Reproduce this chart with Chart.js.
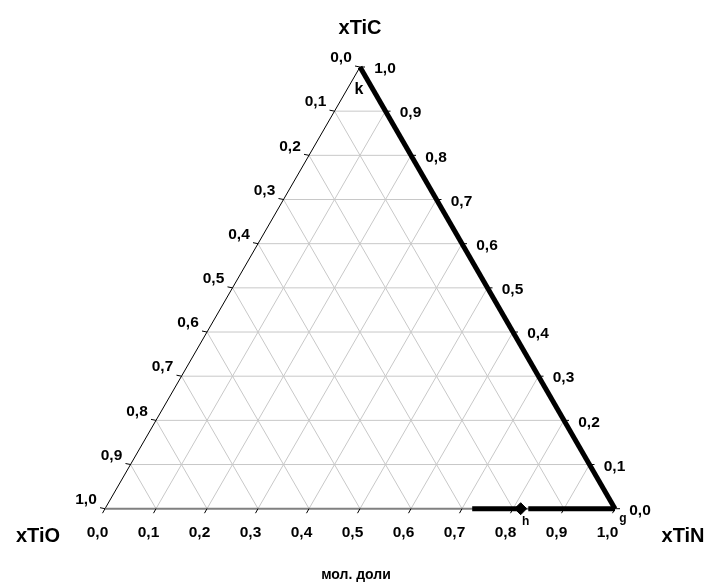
<!DOCTYPE html>
<html>
<head>
<meta charset="utf-8">
<script src="https://cdn.jsdelivr.net/npm/chart.js@4/dist/chart.umd.min.js"></script>
<style>
  html, body { margin: 0; padding: 0; background: #ffffff; }
  #wrap { width: 705px; height: 582px; position: relative; }
</style>
</head>
<body>
<div id="wrap"><canvas id="c" width="705" height="582"></canvas></div>
<script>
// Tick values and their labels (shared by all three sides of the triangle)
const tickValues = [0.0, 0.1, 0.2, 0.3, 0.4, 0.5, 0.6, 0.7, 0.8, 0.9, 1.0];
const tickLabels = ['0,0', '0,1', '0,2', '0,3', '0,4', '0,5', '0,6', '0,7', '0,8', '0,9', '1,0'];
const gridValues = [0.1, 0.2, 0.3, 0.4, 0.5, 0.6, 0.7, 0.8, 0.9];

// Component names at the vertices
const componentTop = 'xTiC';
const componentLeft = 'xTiO';
const componentRight = 'xTiN';
const unitsLabel = 'мол. доли';

// Boundary g–k along the TiN–TiC side (mole fractions)
const gkTiN = [1.0, 0.0];
const gkTiC = [0.0, 1.0];

// Segment ending at point h on the TiO–TiN side
const hSegTiN = [0.72, 0.815];
const hSegTiC = [0.0, 0.0];

// Segment from near h to g on the TiO–TiN side
const hgSegTiN = [0.83, 1.0];
const hgSegTiC = [0.0, 0.0];

// Marked point h
const pointHTiN = [0.815];
const pointHTiC = [0.0];

// Named points: label, xTiN, xTiC
const pointNames = ['k', 'h', 'g'];
const pointNamesTiN = [0.0, 0.815, 1.0];
const pointNamesTiC = [1.0, 0.0, 0.0];

const H = Math.sqrt(3) / 2;

// Ternary (xTiN, xTiC) -> cartesian plot coordinates
function tern(n, c) {
  return { x: n + c / 2, y: c * H };
}
function series(nArr, cArr) {
  return nArr.map((n, i) => tern(n, cArr[i]));
}

const gridColor = '#c8c8c8';
const datasets = [];

// Grid: lines of constant xTiC, xTiN and xTiO
gridValues.forEach(v => {
  datasets.push({ data: [tern(0, v), tern(1 - v, v)], borderColor: gridColor, borderWidth: 1, order: 10 });
  datasets.push({ data: [tern(v, 0), tern(v, 1 - v)], borderColor: gridColor, borderWidth: 1, order: 10 });
  datasets.push({ data: [tern(1 - v, 0), tern(0, 1 - v)], borderColor: gridColor, borderWidth: 1, order: 10 });
});

// Triangle sides
datasets.push({ data: [tern(0, 0), tern(1, 0)], borderColor: '#808080', borderWidth: 2, order: 6 });
datasets.push({ data: [tern(0, 0), tern(0, 1)], borderColor: '#000000', borderWidth: 1, order: 6 });
datasets.push({ data: [tern(1, 0), tern(0, 1)], borderColor: '#000000', borderWidth: 1, order: 6 });

// Phase boundaries
datasets.push({ data: series(gkTiN, gkTiC), borderColor: '#000000', borderWidth: 5, order: 2 });
datasets.push({ data: series(hSegTiN, hSegTiC), borderColor: '#000000', borderWidth: 5, order: 2 });
datasets.push({ data: series(hgSegTiN, hgSegTiC), borderColor: '#000000', borderWidth: 5, order: 2 });
datasets.push({
  data: series(pointHTiN, pointHTiC), showLine: false,
  pointStyle: 'rectRot', pointRadius: 6, pointBackgroundColor: '#000000',
  pointBorderColor: '#000000', pointBorderWidth: 1, order: 1
});

datasets.forEach(d => {
  if (d.showLine === undefined) d.showLine = true;
  if (d.pointRadius === undefined) d.pointRadius = 0;
  d.borderCapStyle = 'butt';
  d.borderJoinStyle = 'miter';
  d.fill = false;
  d.clip = false;
});

const FONT = '"Liberation Sans", Arial, sans-serif';

// Ticks, tick labels, component names and point names
const ternaryText = {
  id: 'ternaryText',
  afterDraw(chart) {
    const ctx = chart.ctx;
    const sx = chart.scales.x, sy = chart.scales.y;
    const px = p => ({ x: sx.getPixelForValue(p.x), y: sy.getPixelForValue(p.y) });

    ctx.save();
    // tick marks
    ctx.strokeStyle = '#000000';
    ctx.lineWidth = 1;
    tickValues.forEach(v => {
      const b = px(tern(v, 0));
      ctx.beginPath(); ctx.moveTo(b.x, b.y); ctx.lineTo(b.x - 2.5, b.y + 4.5); ctx.stroke();
      const l = px(tern(0, 1 - v));
      ctx.beginPath(); ctx.moveTo(l.x, l.y); ctx.lineTo(l.x - 5, l.y - 1); ctx.stroke();
      const r = px(tern(1 - v, v));
      ctx.beginPath(); ctx.moveTo(r.x, r.y); ctx.lineTo(r.x + 5, r.y); ctx.stroke();
    });

    ctx.fillStyle = '#000000';
    ctx.textAlign = 'center';
    ctx.textBaseline = 'middle';
    ctx.font = 'bold 15.5px ' + FONT;
    tickValues.forEach((v, i) => {
      const b = px(tern(v, 0));
      ctx.fillText(tickLabels[i], b.x - 7.5, b.y + 24);
      const l = px(tern(0, 1 - v));
      ctx.fillText(tickLabels[i], l.x - 19, l.y - 9);
      const r = px(tern(1 - v, v));
      ctx.fillText(tickLabels[i], r.x + 25, r.y + 2);
    });

    ctx.font = 'bold 20px ' + FONT;
    const top = px(tern(0, 1));
    ctx.fillText(componentTop, top.x, top.y - 39);
    const bl = px(tern(0, 0));
    ctx.fillText(componentLeft, bl.x - 67, bl.y + 28);
    const br = px(tern(1, 0));
    ctx.fillText(componentRight, br.x + 68, br.y + 28);

    ctx.font = 'bold 14px ' + FONT;
    ctx.fillText(unitsLabel, (bl.x + br.x) / 2 - 4, bl.y + 66);

    // point names
    const offs = [[-1, 23, 16], [5, 13, 12], [8, 10, 12]];
    pointNames.forEach((nm, i) => {
      const p = px(tern(pointNamesTiN[i], pointNamesTiC[i]));
      ctx.font = 'bold ' + offs[i][2] + 'px ' + FONT;
      ctx.fillText(nm, p.x + offs[i][0], p.y + offs[i][1]);
    });
    ctx.restore();
  }
};

new Chart(document.getElementById('c'), {
  type: 'scatter',
  data: { datasets },
  options: {
    responsive: false,
    devicePixelRatio: 1,
    animation: false,
    layout: { padding: { left: 105, right: 90, top: 67, bottom: 73.3 } },
    plugins: { legend: { display: false }, tooltip: { enabled: false }, title: { display: false } },
    scales: {
      x: { type: 'linear', min: 0, max: 1, display: false },
      y: { type: 'linear', min: 0, max: H, display: false }
    }
  },
  plugins: [ternaryText]
});
</script>
</body>
</html>
